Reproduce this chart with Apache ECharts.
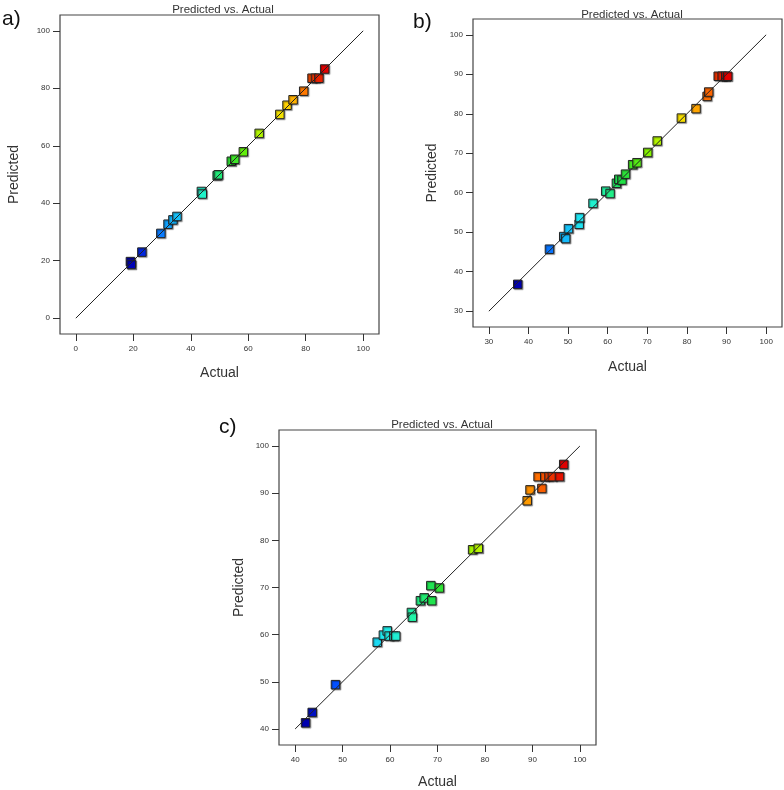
<!DOCTYPE html>
<html>
<head>
<meta charset="utf-8">
<script src="https://cdn.jsdelivr.net/npm/echarts@6/dist/echarts.min.js"></script>
<style>
html,body{margin:0;padding:0;background:#fff;}
#chart{width:784px;height:790px;}
</style>
</head>
<body>
<div id="chart"></div>
<script>
// ---- Panel a ----
const actualA = [19.0, 19.3, 23.0, 29.6, 32.1, 33.8, 35.2, 43.7, 44.0, 49.2, 49.6, 54.1, 55.3, 58.3, 63.8, 71.0, 73.5, 75.6, 79.3, 82.2, 83.4, 84.6, 86.6];
const predA   = [19.7, 18.7, 23.0, 29.5, 32.7, 34.2, 35.4, 44.1, 43.2, 49.6, 49.9, 54.6, 55.3, 57.9, 64.3, 70.9, 74.1, 76.0, 79.0, 83.5, 83.5, 83.5, 86.7];
const ticksA  = [0, 20, 40, 60, 80, 100];
const lineA   = [0, 100];

// ---- Panel b ----
const actualB = [37.3, 45.3, 48.9, 49.4, 50.1, 52.8, 52.9, 56.3, 59.5, 60.6, 62.2, 62.8, 63.6, 64.5, 66.3, 67.4, 70.1, 72.5, 78.6, 82.3, 85.1, 85.5, 87.9, 88.9, 89.8, 90.3];
const predB   = [36.8, 45.7, 48.9, 48.4, 50.9, 52.0, 53.7, 57.3, 60.4, 59.8, 62.4, 63.4, 63.2, 64.7, 67.1, 67.6, 70.2, 73.1, 78.9, 81.3, 84.4, 85.5, 89.5, 89.5, 89.5, 89.5];
const ticksB  = [30, 40, 50, 60, 70, 80, 90, 100];
const lineB   = [30, 100];

// ---- Panel c ----
const actualC = [42.2, 43.6, 48.5, 57.3, 58.6, 59.4, 59.8, 60.8, 61.2, 64.5, 64.7, 66.4, 67.2, 68.8, 68.6, 70.4, 77.4, 78.6, 88.9, 89.5, 92.0, 91.2, 92.6, 93.5, 94.2, 95.7, 96.6];
const predC   = [41.3, 43.5, 49.4, 58.4, 59.9, 60.8, 59.7, 59.7, 59.7, 64.7, 63.7, 67.2, 67.8, 67.2, 70.4, 69.9, 78.0, 78.3, 88.4, 90.7, 91.0, 93.5, 93.5, 93.5, 93.5, 93.5, 96.1];
const ticksC  = [40, 50, 60, 70, 80, 90, 100];
const lineC   = [40, 100];

const titleText = 'Predicted vs. Actual';
const panelLabels = ['a)', 'b)', 'c)'];
const xName = 'Actual';
const yName = 'Predicted';

const palette = ['#0000b0','#0040ff','#10a8ff','#20e8f0','#20f8b8','#20e040','#70f000','#d8f800','#ffd800','#ff7000','#e00000'];

const panels = [
  {act: actualA, pred: predA, ticks: ticksA, line: lineA, min: -5.5, max: 105.5,
   grid: {left: 60, top: 15, width: 319, height: 319}, xGap: 32, yGap: 39,
   title: [218, 6], label: [2, 9]},
  {act: actualB, pred: predB, ticks: ticksB, line: lineB, min: 26, max: 104,
   grid: {left: 473, top: 19, width: 309, height: 308}, xGap: 33, yGap: 34,
   title: [627, 11], label: [413, 12]},
  {act: actualC, pred: predC, ticks: ticksC, line: lineC, min: 36.6, max: 103.4,
   grid: {left: 279, top: 430, width: 317, height: 316}, xGap: 30, yGap: 33,
   title: [437, 421], label: [219, 417]}
];

const FONT = '"Liberation Sans", Arial, sans-serif';
const grids = [], xAxes = [], yAxes = [], series = [], visualMaps = [], titles = [], graphics = [];

panels.forEach((p, i) => {
  grids.push(Object.assign({show: true, borderColor: '#444', borderWidth: 1.2, backgroundColor: '#fff'}, p.grid));
  const axisCommon = {
    type: 'value', gridIndex: i, min: p.min, max: p.max,
    splitLine: {show: false},
    axisLine: {show: false, onZero: false},
    axisTick: {show: true, inside: false, length: 7, lineStyle: {color: '#333', width: 1}, customValues: p.ticks},
    axisLabel: {fontSize: 8, color: '#333', fontFamily: FONT, customValues: p.ticks},
    nameLocation: 'middle',
    nameTextStyle: {fontSize: 14, color: '#333', fontFamily: FONT}
  };
  xAxes.push(Object.assign({}, axisCommon, {
    name: xName, nameGap: p.xGap,
    axisLabel: Object.assign({}, axisCommon.axisLabel, {margin: 11})
  }));
  yAxes.push(Object.assign({}, axisCommon, {
    name: yName, nameGap: p.yGap,
    axisLabel: Object.assign({}, axisCommon.axisLabel, {margin: 10})
  }));
  const data = p.act.map((a, k) => [a, p.pred[k]]);
  series.push({
    type: 'scatter', xAxisIndex: i, yAxisIndex: i,
    symbol: 'rect', symbolSize: 8.5, data: data, z: 2,
    itemStyle: {borderColor: '#222', borderWidth: 1, opacity: 1,
      shadowColor: 'rgba(0,0,0,0.35)', shadowBlur: 1, shadowOffsetX: 1, shadowOffsetY: 1}
  });
  series.push({
    type: 'line', xAxisIndex: i, yAxisIndex: i, z: 3,
    symbol: 'none', silent: true, animation: false,
    lineStyle: {color: '#222', width: 1},
    data: [[p.line[0], p.line[0]], [p.line[1], p.line[1]]]
  });
  visualMaps.push({
    type: 'continuous', show: false, seriesIndex: i * 2, dimension: 0,
    min: Math.min.apply(null, p.act), max: Math.max.apply(null, p.act),
    inRange: {color: palette}
  });
  titles.push({
    text: titleText, left: p.title[0], top: p.title[1] - 7, textAlign: 'center',
    textStyle: {fontSize: 11.5, fontWeight: 'normal', color: '#333', fontFamily: FONT}
  });
  graphics.push({
    type: 'text', left: p.label[0], top: p.label[1],
    style: {text: panelLabels[i], fontSize: 21, fill: '#111', fontFamily: FONT}
  });
});

const chart = echarts.init(document.getElementById('chart'), null, {renderer: 'canvas'});
chart.setOption({
  backgroundColor: '#fff',
  animation: false,
  title: titles,
  grid: grids,
  xAxis: xAxes,
  yAxis: yAxes,
  visualMap: visualMaps,
  series: series,
  graphic: graphics
});
</script>
</body>
</html>
